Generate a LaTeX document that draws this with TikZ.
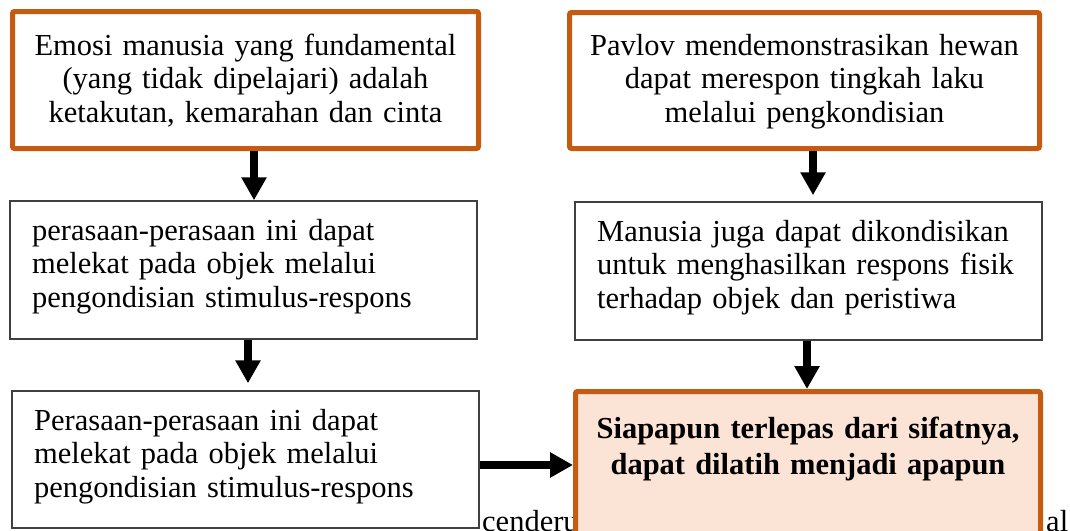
\documentclass[tikz,border=0pt]{standalone}
\usepackage{fontspec}
\setmainfont{Liberation Serif}
\usetikzlibrary{arrows.meta}
\definecolor{orng}{HTML}{C55A11}
\definecolor{peach}{HTML}{FBE4D5}
\definecolor{edge}{HTML}{404040}
\begin{document}
\begin{tikzpicture}[x=1pt,y=-1pt,
  hibox/.style={draw=orng, line width=5pt, rounded corners=2pt, fill=white, inner sep=0pt},
  plainbox/.style={draw=edge, line width=1.5pt, fill=white, inner sep=0pt},
  endbox/.style={draw=orng, line width=5pt, rounded corners=2pt, fill=peach, inner sep=0pt},
  txt/.style={inner sep=0pt, font=\fontsize{30.5}{33.6}\selectfont},
  ctxt/.style={txt, anchor=base, text width=465pt, align=center},
  ltxt/.style={txt, anchor=base west, text width=445pt, align=left},
  arr/.style={line width=8pt, -{Triangle[width=24pt,length=23pt]}}
]
\useasboundingbox (0,0) rectangle (1070,530);
\begin{scope}
\clip (0,0) rectangle (1070,530);
% boxes
\node[hibox, minimum width=466pt, minimum height=137pt] (b1) at (245.5,80) {};
\node[hibox, minimum width=470pt, minimum height=136pt] (b3) at (804.5,80.5) {};
\node[plainbox, minimum width=467pt, minimum height=138pt] (b2) at (243.5,270) {};
\node[plainbox, minimum width=467pt, minimum height=138pt] (b4) at (808.5,271) {};
\node[plainbox, minimum width=467pt, minimum height=137pt] (b5) at (245.5,459.5) {};
% text partly hidden behind the final box
\node[txt, anchor=base west] (c1) at (482,531) {cenderu};
\node[txt, anchor=base west] (c2) at (1046,531) {al};
\node[endbox, minimum width=465pt, minimum height=170pt] (b6) at (808,476.5) {};
% texts
\node[ctxt] (t1) at (245.5,55) {Emosi manusia yang fundamental\\(yang tidak dipelajari) adalah\\ketakutan, kemarahan dan cinta};
\node[ctxt] (t3) at (804.5,55) {Pavlov mendemonstrasikan hewan\\dapat merespon tingkah laku\\melalui pengkondisian};
\node[ltxt] (t2) at (32,240) {perasaan-perasaan ini dapat\\melekat pada objek melalui\\pengondisian stimulus-respons};
\node[ltxt] (t4) at (597,241) {Manusia juga dapat dikondisikan\\untuk menghasilkan respons fisik\\terhadap objek dan peristiwa};
\node[ltxt] (t5) at (34,430) {Perasaan-perasaan ini dapat\\melekat pada objek melalui\\pengondisian stimulus-respons};
\node[ctxt, font=\fontsize{30.5}{36.5}\selectfont\bfseries] (t6) at (808,438) {Siapapun terlepas dari sifatnya,\\dapat dilatih menjadi apapun};
% arrows
\draw[arr] ([xshift=8.5pt]b1.south) -- ([xshift=8.5pt]b1.south |- b2.north);
\draw[arr, shorten >=6pt] ([xshift=8.5pt]b3.south) -- ([xshift=8.5pt]b3.south |- b4.north);
\draw[arr, shorten >=7pt] ([xshift=4.5pt]b2.south) -- ([xshift=4.5pt]b2.south |- b5.north);
\draw[arr] ([xshift=-1.5pt]b4.south) -- ([xshift=-1.5pt]b4.south |- b6.north);
\draw[arr] ([yshift=-5.5pt]b5.east) -- ([yshift=-5.5pt]b5.east -| b6.west);
\end{scope}
\end{tikzpicture}
\end{document}
